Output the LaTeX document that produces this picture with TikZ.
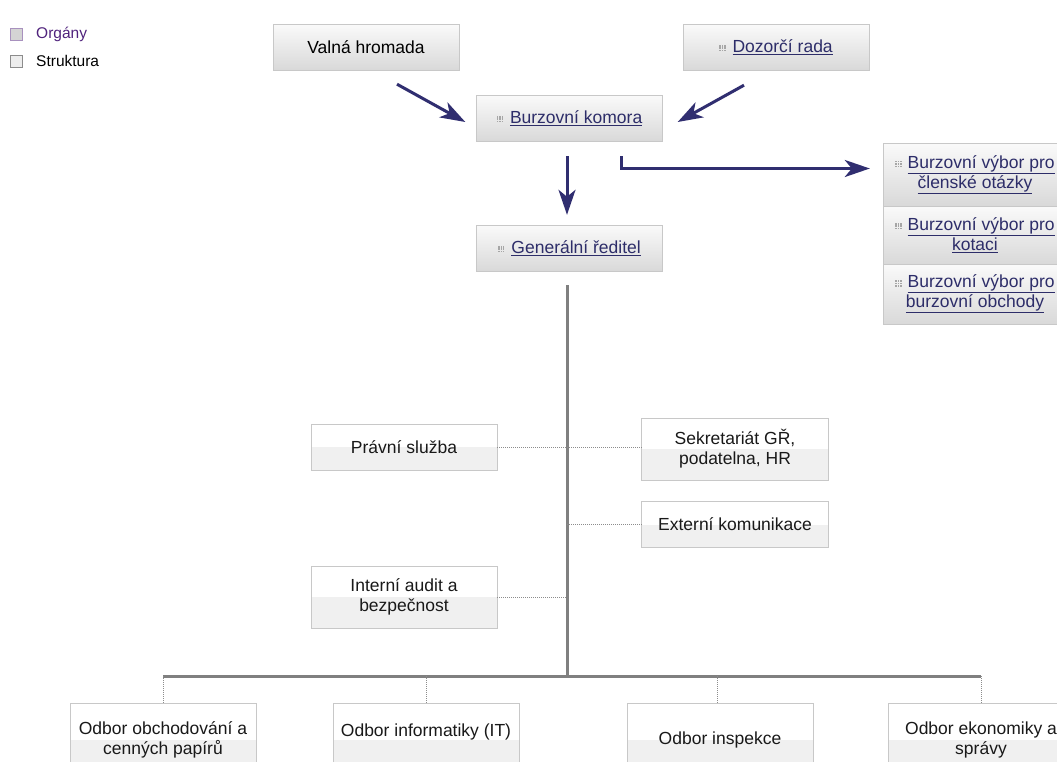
\documentclass[tikz,border=0pt]{standalone}
\usepackage{fontspec}
\setmainfont{Liberation Sans}
\usetikzlibrary{arrows.meta,calc}
\definecolor{linkc}{RGB}{45,45,105}
\definecolor{arrc}{RGB}{48,46,112}
\definecolor{orgc}{RGB}{80,35,125}
\definecolor{bord}{RGB}{200,200,200}
\definecolor{trunkc}{RGB}{128,128,128}
\newcommand\gripicon{\tikz[baseline=-1pt,x=1pt,y=1pt]{\foreach \i in {0,2.4,4.8}{\foreach \j in {0,2.4,4.8}{\fill[black!35] (\i,\j) rectangle ++(1.5,1.5);}}}}
\newcommand\lnk[1]{\underline{#1}}
\tikzset{
  boxfont/.style={font=\fontsize{17.5}{20}\selectfont},
  organ/.style={draw=bord, top color=black!2, bottom color=black!15, minimum width=186pt, minimum height=46pt, inner sep=0pt, boxfont, align=center, text=black},
  orglink/.style={organ, text=linkc},
  struct/.style={draw=bord, fill=white, minimum width=186pt, minimum height=46pt, inner sep=0pt, boxfont, align=center, text=black!90,
    path picture={\fill[black!6] (path picture bounding box.west) rectangle (path picture bounding box.south east);}},
  arr/.style={draw=arrc, line width=3pt, -{Stealth[length=25pt,width=17pt,inset=7pt]}},
  trunk/.style={draw=trunkc, line width=3pt},
  dots/.style={draw=black!45, line width=0.8pt, dash pattern=on 1pt off 1pt},
  legbox/.style={minimum size=12pt, inner sep=0pt, line width=0.8pt},
  legtext/.style={anchor=west, inner sep=0pt, font=\fontsize{15.5}{18}\selectfont}
}
\begin{document}
\begin{tikzpicture}[x=1pt,y=-1pt]
\fill[white] (0,0) rectangle (1057,761);
\useasboundingbox (0,0) rectangle (1057,761);

% legend
\node[legbox, draw=orgc!50, fill=black!17] (lg1) at (16,34) {};
\node[legtext, text=orgc] (lt1) at (36,34) {Orgány};
\node[legbox, draw=black!45, fill=black!7] (lg2) at (16,61) {};
\node[legtext] (lt2) at (36,61) {Struktura};

% organs
\node[organ] (valna) at (366,47) {Valná hromada};
\node[orglink] (dozorci) at (776,47) {\gripicon\hspace{7pt}\lnk{Dozorčí rada}};
\node[orglink] (komora) at (569.5,118) {\gripicon\hspace{7pt}\lnk{Burzovní komora}};
\node[orglink] (gr) at (569.5,248) {\gripicon\hspace{7pt}\lnk{Generální ředitel}};

\node[orglink, minimum width=184pt, minimum height=63pt] (c1) at (975,174.5) {\gripicon\hspace{6pt}\lnk{Burzovní výbor pro}\\\lnk{členské otázky}};
\node[orglink, minimum width=184pt, minimum height=58pt] (c2) at (975,235) {\gripicon\hspace{6pt}\lnk{Burzovní výbor pro}\\\lnk{kotaci}};
\node[orglink, minimum width=184pt, minimum height=60pt] (c3) at (975,294) {\gripicon\hspace{6pt}\lnk{Burzovní výbor pro}\\\lnk{burzovní obchody}};

% arrows
\draw[arr] ([xshift=31pt,yshift=-14pt]valna.south) -- ([xshift=-11pt,yshift=-4pt]komora.west);
\draw[arr] ([xshift=-32pt,yshift=-15pt]dozorci.south) -- ([xshift=15pt,yshift=-4pt]komora.east);
\draw[arr] ([xshift=-2.5pt,yshift=-15pt]komora.south) -- ([xshift=-2.5pt,yshift=10pt]gr.north);
\draw[arr] ([xshift=51.5pt,yshift=-15pt]komora.south) |- ([xshift=-13pt,yshift=6pt]c1.west);

% staff units
\node[struct, minimum width=186pt, minimum height=46pt] (pravni) at (404,447) {Právní služba};
\node[struct, minimum width=187pt, minimum height=62pt] (sekr) at (735,449) {Sekretariát GŘ,\\podatelna, HR};
\node[struct, minimum width=187pt, minimum height=46pt] (ext) at (735,524.5) {Externí komunikace};
\node[struct, minimum width=186pt, minimum height=62pt] (audit) at (404,597) {Interní audit a\\bezpečnost};

% trunk
\coordinate (ttop) at (567,285);
\coordinate (tbot) at (567,676);
\coordinate (hl) at (163,676);
\coordinate (hr) at (981,676);
\draw[trunk] (ttop) -- (tbot);
\draw[trunk] (hl) -- (hr);

\draw[dots] (pravni.east) -- (pravni.east -| sekr.west);
\draw[dots] (ext.west -| tbot) -- (ext.west);
\draw[dots] (audit.east) -- (audit.east -| tbot);

% departments
\node[struct, minimum width=186pt, minimum height=74pt] (obch) at (163,740) {Odbor obchodování a\\cenných papírů};
\node[struct, minimum width=186pt, minimum height=74pt] (info) at (426,740) {Odbor informatiky (IT)\\\mbox{}};
\node[struct, minimum width=186pt, minimum height=74pt] (insp) at (720,740) {Odbor inspekce};
\node[struct, minimum width=186pt, minimum height=74pt] (ekon) at (981,740) {Odbor ekonomiky a\\správy};

\draw[dots] (obch.north |- hl) -- (obch.north);
\draw[dots] (info.north |- hl) -- (info.north);
\draw[dots] ([xshift=-3pt]insp.north |- hl) -- ([xshift=-3pt]insp.north);
\draw[dots] (ekon.north |- hl) -- (ekon.north);
\end{tikzpicture}
\end{document}
